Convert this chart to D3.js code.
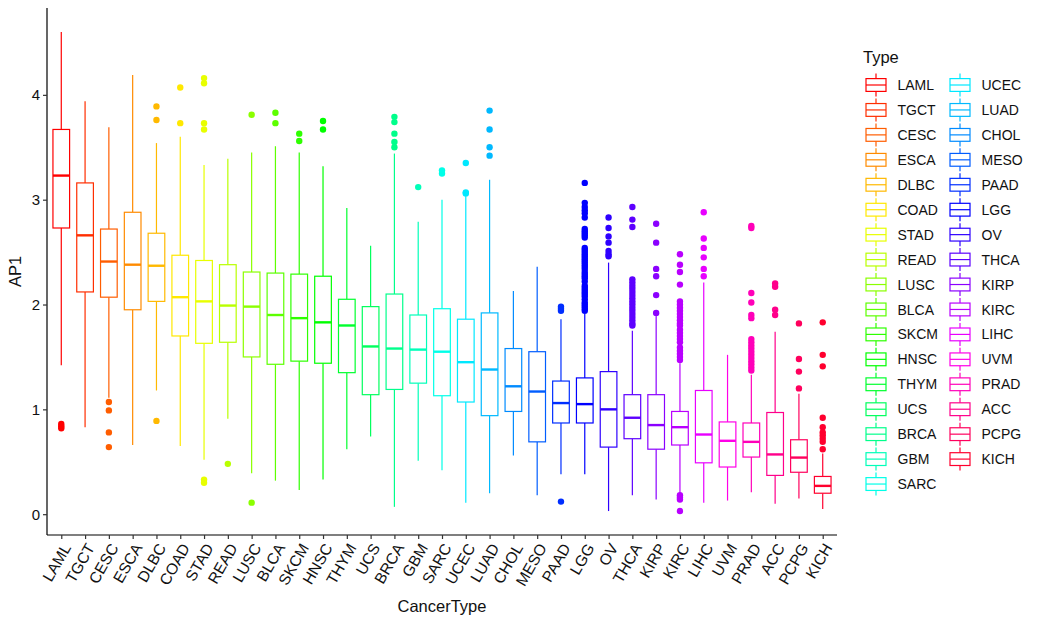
<!DOCTYPE html>
<html>
<head>
<meta charset="utf-8">
<script src="https://cdn.jsdelivr.net/npm/d3@7"></script>
<style>
  html, body { margin: 0; padding: 0; background: #ffffff; }
  svg { display: block; font-family: "Liberation Sans", Arial, sans-serif; }
</style>
</head>
<body>
<svg id="chart" width="1041" height="625"></svg>
<script>
// ---- data ----
const categories = ["LAML","TGCT","CESC","ESCA","DLBC","COAD","STAD","READ","LUSC","BLCA","SKCM","HNSC","THYM","UCS","BRCA","GBM","SARC","UCEC","LUAD","CHOL","MESO","PAAD","LGG","OV","THCA","KIRP","KIRC","LIHC","UVM","PRAD","ACC","PCPG","KICH"];
const whiskerLow  = [1.42,0.83,1.11,0.66,1.18,0.65,0.52,0.91,0.39,0.32,0.23,0.33,0.62,0.74,0.07,0.51,0.42,0.11,0.20,0.56,0.18,0.38,0.38,0.03,0.18,0.14,0.20,0.11,0.13,0.21,0.10,0.15,0.05];
const q1          = [2.73,2.12,2.07,1.95,2.03,1.70,1.63,1.64,1.50,1.43,1.46,1.44,1.35,1.14,1.19,1.25,1.13,1.07,0.94,0.98,0.69,0.87,0.87,0.64,0.72,0.62,0.66,0.49,0.45,0.545,0.37,0.40,0.20];
const medians     = [3.23,2.66,2.41,2.38,2.37,2.07,2.03,1.99,1.98,1.90,1.87,1.83,1.80,1.60,1.58,1.57,1.55,1.45,1.38,1.22,1.17,1.06,1.05,1.00,0.92,0.85,0.83,0.76,0.70,0.69,0.57,0.54,0.27];
const q3          = [3.67,3.16,2.72,2.88,2.68,2.47,2.42,2.38,2.31,2.30,2.29,2.27,2.05,1.98,2.10,1.90,1.96,1.86,1.92,1.58,1.55,1.27,1.30,1.36,1.14,1.14,0.98,1.18,0.88,0.87,0.97,0.71,0.36];
const whiskerHigh = [4.60,3.94,3.69,4.19,3.54,3.60,3.33,3.39,3.45,3.51,3.45,3.32,2.92,2.56,3.44,2.79,3.00,3.04,3.19,2.13,2.36,1.86,1.91,2.40,1.75,1.89,1.44,2.21,1.52,1.33,1.74,1.15,0.58];
const outliers = [
  [0.86,0.84,0.82],
  [],
  [1.07,0.99,0.78,0.64],
  [],
  [3.89,3.76,0.89],
  [4.07,3.73],
  [4.16,4.11,3.73,3.67,0.33,0.30],
  [0.48],
  [3.81,0.11],
  [3.83,3.73],
  [3.63,3.56],
  [3.75,3.67],
  [],
  [],
  [3.79,3.74,3.63,3.55,3.50],
  [3.12],
  [3.28,3.25],
  [3.35,3.07,3.06],
  [3.85,3.67,3.50,3.42],
  [],
  [],
  [1.98,1.96,1.94,0.12],
  [3.16,2.97,2.93,2.90,2.87,2.83,2.72,2.70,2.68,2.66,2.64,2.54,2.52,2.50,2.48,2.46,2.44,2.42,2.40,2.38,2.36,2.34,2.31,2.29,2.27,2.25,2.22,2.18,2.16,2.14,2.12,2.10,2.08,2.05,2.02,2.00,1.98,1.96,1.94],
  [2.83,2.73,2.65,2.59,2.51,2.48,2.46],
  [2.93,2.81,2.74,2.24,2.21,2.18,2.15,2.12,2.09,2.06,2.03,2.00,1.97,1.94,1.91,1.88,1.85,1.82,1.80],
  [2.77,2.59,2.34,2.27,2.09,1.92],
  [2.48,2.38,2.31,2.19,2.03,2.00,1.97,1.94,1.91,1.88,1.85,1.82,1.80,1.76,1.73,1.70,1.67,1.64,1.59,1.56,1.53,1.50,1.47,0.18,0.16,0.14,0.03],
  [2.88,2.63,2.54,2.45,2.34,2.27],
  [],
  [2.75,2.73,2.11,2.02,1.90,1.87,1.67,1.64,1.61,1.58,1.55,1.52,1.49,1.46,1.43,1.40,1.37],
  [2.20,2.17,1.95,1.90],
  [1.82,1.48,1.36,1.20],
  [1.83,1.52,1.41,0.92,0.83,0.78,0.75,0.72,0.69,0.62]
];
const yTicks = [0,1,2,3,4];
const xTitle = "CancerType";
const yTitle = "AP1";
const legendTitle = "Type";

// ---- layout ----
const svg = d3.select("#chart");
const panel = {left: 47, right: 837, top: 8, bottom: 535};
const FONT = "Liberation Sans, Arial, sans-serif";

const color = d3.scaleOrdinal()
  .domain(categories)
  .range(categories.map((c, i) => d3.hsl(i / categories.length * 360, 1, 0.5).formatHex()));

// discrete x with ggplot-like 0.6 expansion
const x = d3.scalePoint().domain(categories)
  .range([panel.left, panel.right]).padding(0.6);
const step = x.step();
const boxW = step * 0.7;

const allVals = whiskerLow.concat(whiskerHigh, outliers.flat());
const lo = d3.min(allVals), hi = d3.max(allVals);
const pad = (hi - lo) * 0.05;
const y = d3.scaleLinear().domain([lo - pad, hi + pad]).range([panel.bottom, panel.top]);

// ---- boxes ----
const g = svg.append("g");
const lw = 1.2;
categories.forEach((c, i) => {
  const cx = x(c), col = color(c);
  const gg = g.append("g");
  gg.append("line").attr("x1", cx).attr("x2", cx)
    .attr("y1", y(q3[i])).attr("y2", y(whiskerHigh[i]))
    .attr("stroke", col).attr("stroke-width", lw);
  gg.append("line").attr("x1", cx).attr("x2", cx)
    .attr("y1", y(q1[i])).attr("y2", y(whiskerLow[i]))
    .attr("stroke", col).attr("stroke-width", lw);
  gg.append("rect").attr("x", cx - boxW / 2).attr("width", boxW)
    .attr("y", y(q3[i])).attr("height", y(q1[i]) - y(q3[i]))
    .attr("fill", "#ffffff").attr("stroke", col).attr("stroke-width", lw);
  gg.append("line").attr("x1", cx - boxW / 2).attr("x2", cx + boxW / 2)
    .attr("y1", y(medians[i])).attr("y2", y(medians[i]))
    .attr("stroke", col).attr("stroke-width", 2.4);
  gg.selectAll("circle").data(outliers[i]).join("circle")
    .attr("cx", cx).attr("cy", d => y(d)).attr("r", 3.2)
    .attr("fill", col);
});

// ---- axes ----
const yAxis = d3.axisLeft(y).tickValues(yTicks).tickSize(4).tickPadding(3).tickFormat(d3.format("d"));
const gy = svg.append("g").attr("transform", `translate(${panel.left},0)`).call(yAxis);
gy.attr("font-family", FONT);
gy.select(".domain").attr("d", `M0,${panel.top}V${panel.bottom}`).attr("stroke", "#000").attr("stroke-width", 1.2);
gy.selectAll(".tick line").attr("stroke", "#333").attr("stroke-width", 1.2);
gy.selectAll(".tick text").attr("font-size", 15).attr("fill", "#111")
  .attr("font-family", FONT);

const xAxis = d3.axisBottom(x).tickSize(4).tickPadding(0);
const gx = svg.append("g").attr("transform", `translate(0,${panel.bottom})`).call(xAxis);
gx.attr("font-family", FONT);
gx.select(".domain").attr("d", `M${panel.left},0H${panel.right}`).attr("stroke", "#000").attr("stroke-width", 1.2);
gx.selectAll(".tick line").attr("stroke", "#333").attr("stroke-width", 1.2);
gx.selectAll(".tick text")
  .attr("font-size", 15.5).attr("fill", "#111")
  .attr("font-family", FONT)
  .attr("text-anchor", "end")
  .attr("y", 0).attr("dy", "0.72em")
  .attr("transform", "translate(0,7) rotate(-60)");

// ---- titles ----
svg.append("text").attr("x", (panel.left + panel.right) / 2).attr("y", 612)
  .attr("text-anchor", "middle").attr("font-size", 16.5).attr("fill", "#111").text(xTitle);
svg.append("text").attr("transform", `translate(21,${(panel.top + panel.bottom) / 2}) rotate(-90)`)
  .attr("text-anchor", "middle").attr("font-size", 16.5).attr("fill", "#111").text(yTitle);

// ---- legend ----
const leg = svg.append("g");
leg.append("text").attr("x", 863).attr("y", 63).attr("font-size", 16.5).attr("fill", "#111").text(legendTitle);
const perCol = 17, rowH = 24.94, row0 = 85;
const colX = [866, 950];
categories.forEach((c, i) => {
  const col = Math.floor(i / perCol), r = i % perCol;
  const kx = colX[col], ky = row0 + r * rowH, kw = 20, col_ = color(c);
  const k = leg.append("g");
  k.append("line").attr("x1", kx + kw / 2).attr("x2", kx + kw / 2).attr("y1", ky - 11.5).attr("y2", ky + 11.5)
    .attr("stroke", col_).attr("stroke-width", lw);
  k.append("rect").attr("x", kx).attr("y", ky - 6.4).attr("width", kw).attr("height", 12.8)
    .attr("fill", "#fff").attr("stroke", col_).attr("stroke-width", lw);
  k.append("line").attr("x1", kx).attr("x2", kx + kw).attr("y1", ky).attr("y2", ky)
    .attr("stroke", col_).attr("stroke-width", lw);
  k.append("text").attr("x", kx + 31.5).attr("y", ky).attr("dy", "0.36em")
    .attr("font-size", 14).attr("fill", "#111").text(c);
});
</script>
</body>
</html>
